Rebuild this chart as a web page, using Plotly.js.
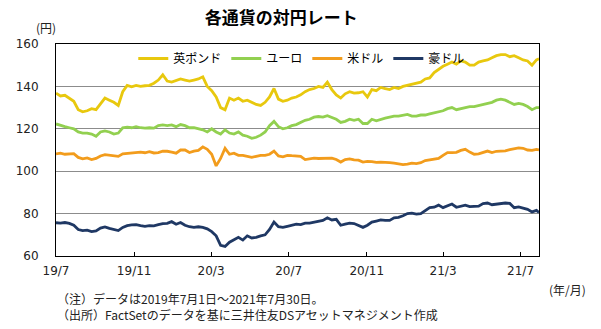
<!DOCTYPE html>
<html>
<head>
<meta charset="utf-8">
<script src="https://cdn.plot.ly/plotly-3.0.1.min.js"></script>
<style>
  html, body { margin: 0; padding: 0; background: #fff; }
  #chart { width: 601px; height: 329px; }
</style>
</head>
<body>
<div id="chart"></div>
<script>
// Weekly observations (Mondays from 2019-07-01) plus the last day 2021-07-30
const startDate = '2019-07-01';
const weekCount = 109;
const lastDate = '2021-07-30';

const seriesNames = ['英ポンド', 'ユーロ', '米ドル', '豪ドル'];

const gbp = [136.8,135.5,135.8,134.5,133,129,128,128.5,129.5,129,
  131.5,134.5,133.5,132.5,131,137.5,140.5,139.8,140.5,140,
  140.3,140.5,141.5,143,145.5,142.5,142,142.8,143.5,143,
  142.5,143,143.5,144.5,140,138,135,130,129,134.5,
  133.5,134.5,133,133.5,132.5,131.5,131,132.5,135,139,
  134,133,133.5,134.5,135,136,137.5,138.5,139,140,
  139.5,142,138.5,136,134.5,136.5,137.5,136.8,137,137.5,
  135,138.5,138,139.5,139,138.5,139.5,139,140,140.5,
  141,141.5,142,143.5,144,146.5,148,149.5,150.5,151.5,
  150.5,152,151.5,150,150,151.5,152,152.5,153.5,154.5,
  155,155,154,154.5,153.5,152.5,152,150,152.5,153];

const eur = [122.3,121.5,121,120.5,120,118.5,118,118,117.5,116.5,
  118.5,119,118.5,117.5,118,120.5,120.8,120.5,121,120.5,
  120.3,120.5,120.3,121.5,121.8,121.5,121.8,121,122,121.5,
  120.5,120.5,120,119.5,118.5,120,118.5,117.5,119.5,118,
  117.5,118.5,117,116.5,115.5,116,117,118.5,121.5,123.5,
  121,120,120.5,121.5,122,123,124,124.5,125.5,125.8,
  125.5,126.2,125.5,124.5,123,123.5,124.5,124,124.5,122.5,
  122.5,124.5,123.8,124.5,125,125.5,126,126,126.5,126.8,
  126,126,126.5,126.5,127,127.5,128,128.5,129.5,130,
  129,129.5,129.8,130.5,130.5,131,131.5,131.8,132.5,133.5,
  134,133.5,132.5,131.5,132,131.5,130.5,129,130,130];

const usd = [108.2,108.5,108,108.2,108.3,106.5,105.8,106.3,105.5,106,
  107.2,107.8,107.6,107.5,107,108.2,108.4,108.5,108.8,109,
  108.7,109.2,108.6,108.8,109.4,109.4,109,108.5,110,110,
  108.8,109.5,109.8,111.5,110.3,108,102.5,106,110.8,108,
  108.5,107.5,107.5,107,106.5,107,107.5,107.5,108,109.5,
  107.2,106.8,107.5,107.3,107.2,107,105.5,105.8,106.2,106,
  106,106.2,106.2,105.5,104.3,105.5,105.8,105.3,105.2,104.3,
  104.6,104.5,104.2,104.3,104,104,103.8,103.5,103.1,103.3,
  103.8,103.6,104,105,105.3,105.8,106,107.5,108.8,108.8,
  108.9,109.8,110.3,109,108,108.2,109,109.5,108.8,109.4,
  109.5,109.6,110.2,110.5,111,110.8,110,109.8,110.3,110];

const aud = [75.7,75.5,75.8,75.4,74.5,72.5,72,72.2,71.5,71.8,
  73.2,73.7,73,72.5,72,73.5,74.3,74.7,74.8,74.3,
  74,74.3,74.2,74.8,75.3,75.4,76.2,75,75.8,74.5,
  73.8,73.5,73.8,73.5,72.8,71.5,69.5,65,64.5,66.5,
  67.5,68.8,67.5,69.5,68.5,68.8,69.5,70,72.5,76,
  73.8,73.5,74,74.5,75,74.8,75.5,75.5,76,76.5,
  76.8,78,77,77.3,74.5,75,75.5,75.3,74.5,73.5,
  74.5,76,76.5,77,76.8,76.8,78,78.2,79,80,
  80.2,79.8,80,81.2,82.8,83,84,82.8,83.5,84.5,
  83,83.5,84,83.3,83.5,83.5,84.7,85,84.2,84.5,
  84.8,85,84.8,82.8,83.2,82.5,82,80.8,81.5,80.5];

const colors = ['#E8C80E', '#92D050', '#F29C1C', '#1F3864'];

const tickDates = ['2019-07-01','2019-11-01','2020-03-01','2020-07-01','2020-11-01','2021-03-01','2021-07-01'];
const tickLabels = ['19/7','19/11','20/3','20/7','20/11','21/3','21/7'];
const yTicks = [60, 80, 100, 120, 140, 160];

const titleText = '各通貨の対円レート';
const yUnit = '(円)';
const xUnit = '(年/月)';
const note1 = '（注）データは2019年7月1日～2021年7月30日。';
const note2 = '（出所）FactSetのデータを基に三井住友DSアセットマネジメント作成';

// build the date axis values
const dates = [];
const d0 = new Date(startDate + 'T00:00:00Z');
for (let i = 0; i < weekCount; i++) {
  const d = new Date(d0.getTime() + i * 7 * 86400000);
  dates.push(d.toISOString().slice(0, 10));
}
dates.push(lastDate);

const allSeries = [gbp, eur, usd, aud];
const traces = allSeries.map((vals, k) => ({
  x: dates,
  y: vals,
  type: 'scatter',
  mode: 'lines',
  name: seriesNames[k],
  line: { color: colors[k], width: 2.8 },
  hoverinfo: 'skip'
}));

const jp = '"Noto Sans CJK JP", "DejaVu Sans", sans-serif';
const num = '"DejaVu Sans", "Noto Sans CJK JP", sans-serif';

const layout = {
  width: 601,
  height: 329,
  margin: { l: 56, r: 62, t: 44, b: 73 },
  paper_bgcolor: '#ffffff',
  plot_bgcolor: '#ffffff',
  showlegend: true,
  title: {
    text: '<b>' + titleText + '</b>',
    font: { family: jp, size: 17, color: '#000' },
    x: 0.468, xanchor: 'center', y: 0.945, yanchor: 'middle'
  },
  legend: {
    orientation: 'h',
    x: 0.16, xanchor: 'left',
    y: 1.0, yanchor: 'top',
    bgcolor: 'rgba(0,0,0,0)',
    font: { family: jp, size: 12, color: '#000' },
    itemwidth: 30,
    tracegroupgap: 0
  },
  xaxis: {
    type: 'date',
    range: ['2019-07-01', '2021-07-30'],
    tickmode: 'array',
    tickvals: tickDates,
    ticktext: tickLabels,
    ticks: 'inside',
    ticklen: 4,
    tickcolor: '#000',
    showgrid: false,
    zeroline: false,
    showline: true,
    linecolor: '#000',
    linewidth: 1,
    mirror: true,
    ticklabelstandoff: 4,
    tickfont: { family: num, size: 12, color: '#222' }
  },
  yaxis: {
    range: [60, 160],
    tickmode: 'array',
    tickvals: yTicks,
    ticks: '',
    showgrid: true,
    gridcolor: '#8c8c8c',
    gridwidth: 1,
    zeroline: false,
    showline: true,
    linecolor: '#000',
    linewidth: 1,
    mirror: true,
    ticklabelstandoff: 14,
    tickfont: { family: num, size: 12, color: '#222' }
  },
  annotations: [
    { text: yUnit, xref: 'paper', yref: 'paper', x: -0.02, y: 1.03, xanchor: 'center', yanchor: 'bottom',
      showarrow: false, font: { family: jp, size: 12, color: '#222' } },
    { text: xUnit, xref: 'paper', yref: 'paper', x: 1.017, y: -0.16, xanchor: 'left', yanchor: 'middle',
      showarrow: false, font: { family: jp, size: 12, color: '#222' } },
    { text: note1, xref: 'paper', yref: 'paper', x: -0.002, y: -0.2, xanchor: 'left', yanchor: 'middle',
      showarrow: false, font: { family: jp, size: 12, color: '#222' } },
    { text: note2, xref: 'paper', yref: 'paper', x: -0.002, y: -0.275, xanchor: 'left', yanchor: 'middle',
      showarrow: false, font: { family: jp, size: 12, color: '#222' } }
  ]
};

Plotly.newPlot('chart', traces, layout, { displayModeBar: false, staticPlot: true });
</script>
</body>
</html>
